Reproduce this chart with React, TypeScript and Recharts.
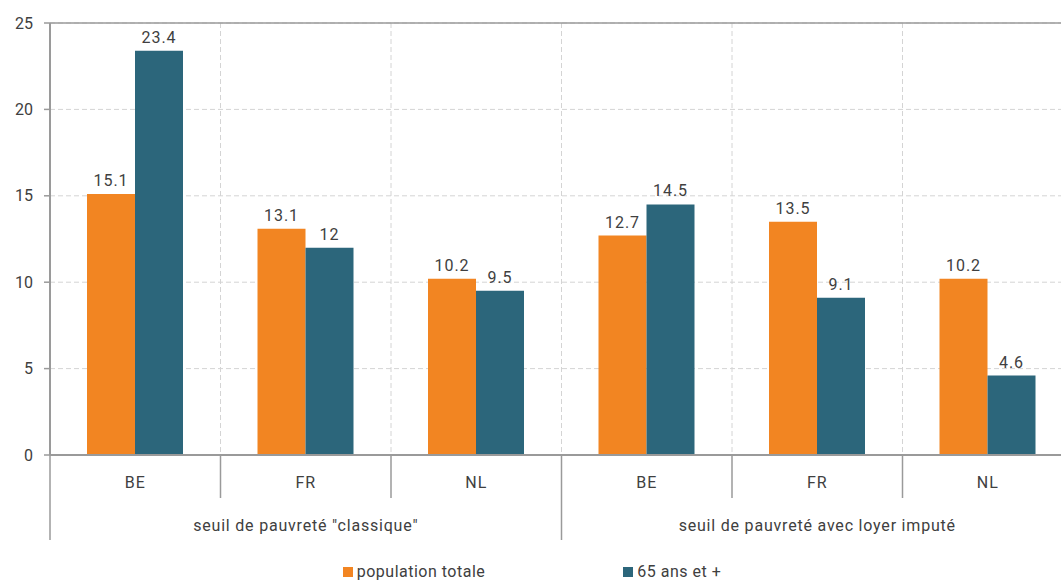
import React from 'react';
import {
  BarChart,
  Bar,
  XAxis,
  YAxis,
  CartesianGrid,
  ReferenceLine,
  LabelList,
  Legend
} from 'recharts';

const countries = ['BE', 'FR', 'NL', 'BE', 'FR', 'NL'];
const groups = ['seuil de pauvreté "classique"', 'seuil de pauvreté avec loyer imputé'];
const populationTotale = [15.1, 13.1, 10.2, 12.7, 13.5, 10.2];
const plus65 = [23.4, 12, 9.5, 14.5, 9.1, 4.6];
const yTicks = [0, 5, 10, 15, 20, 25];
const seriesNames = ['population totale', '65 ans et +'];

const ORANGE = '#F28522';
const TEAL = '#2C667B';
const TEXT = '#404040';
const AXIS = '#9a9a9a';
const FONT = 'Roboto, "Noto Sans", sans-serif';

const CHART_W = 1080;
const CHART_H = 580;
const X_H = 30;
const MARGIN = { top: 23, right: 7, left: 0, bottom: 125 - X_H };
const Y_W = 50;
const BAND_W = (CHART_W - MARGIN.left - MARGIN.right - Y_W) / countries.length;
const PER_GROUP = countries.length / groups.length;

const data = countries.map((country, i) => ({
  country,
  pop: populationTotale[i],
  old: plus65[i]
}));

// country label + separators, group label under the middle country
const CategoryTick = (props: any) => {
  const { x, y, payload, index } = props;
  const half = BAND_W / 2;
  const groupStart = index % PER_GROUP === 0;
  const isLast = index === countries.length - 1;
  return (
    <g>
      <line x1={x - half} y1={y} x2={x - half} y2={y + (groupStart ? 85 : 43)} stroke={AXIS} strokeWidth={1.5} />
      {isLast && <line x1={x + half} y1={y} x2={x + half} y2={y + 85} stroke={AXIS} strokeWidth={1.5} />}
      <text x={x} y={y + 33} textAnchor="middle" fill={TEXT} fontSize={16} letterSpacing={1} fontFamily={FONT}>
        {payload.value}
      </text>
      {index % PER_GROUP === 1 && (
        <text x={x} y={y + 76} textAnchor="middle" fill={TEXT} fontSize={16} letterSpacing={0.8} fontFamily={FONT}>
          {groups[Math.floor(index / PER_GROUP)]}
        </text>
      )}
    </g>
  );
};

const LegendContent = () => (
  <div style={{ display: 'flex', justifyContent: 'center', gap: 138, fontFamily: FONT, fontSize: 16, letterSpacing: 0.5, color: TEXT }}>
    {seriesNames.map((name, i) => (
      <div key={name} style={{ display: 'flex', alignItems: 'center' }}>
        <span style={{ width: 10, height: 10, background: i === 0 ? ORANGE : TEAL, marginRight: 4, display: 'inline-block' }} />
        <span>{name}</span>
      </div>
    ))}
  </div>
);

export default function App() {
  return (
    <div style={{ position: 'fixed', left: 0, top: 0, width: 1061, height: 580, overflow: 'hidden', background: '#fff' }}>
      <BarChart width={CHART_W} height={CHART_H} data={data} margin={MARGIN} barGap={0}>
        <CartesianGrid
          stroke="#d4d4d4"
          strokeDasharray="5 3"
          verticalCoordinatesGenerator={({ offset }: any) =>
            countries.map((_, i) => offset.left + (i + 1) * (offset.width / countries.length))
          }
        />
        <ReferenceLine y={25} stroke={AXIS} strokeWidth={1.5} />
        <XAxis
          dataKey="country"
          height={X_H}
          axisLine={{ stroke: AXIS, strokeWidth: 2 }}
          tickLine={false}
          tickSize={0}
          tickMargin={0}
          interval={0}
          tick={<CategoryTick />}
        />
        <YAxis
          width={Y_W}
          domain={[0, 25]}
          ticks={yTicks}
          axisLine={{ stroke: AXIS, strokeWidth: 2 }}
          tickLine={{ stroke: AXIS, strokeWidth: 1.5 }}
          tickSize={6}
          tickMargin={11}
          tick={{ fill: TEXT, fontSize: 16, fontFamily: FONT }}
        />
        <Legend
          verticalAlign="middle"
          align="center"
          wrapperStyle={{ top: 562, left: 0, width: CHART_W - 16 }}
          content={<LegendContent />}
        />
        <Bar dataKey="pop" name={seriesNames[0]} fill={ORANGE} barSize={48} isAnimationActive={false}>
          <LabelList dataKey="pop" position="top" offset={8} fill={TEXT} fontSize={16} letterSpacing={1} fontFamily={FONT} />
        </Bar>
        <Bar dataKey="old" name={seriesNames[1]} fill={TEAL} barSize={48} isAnimationActive={false}>
          <LabelList dataKey="old" position="top" offset={8} fill={TEXT} fontSize={16} letterSpacing={1} fontFamily={FONT} />
        </Bar>
      </BarChart>
    </div>
  );
}
